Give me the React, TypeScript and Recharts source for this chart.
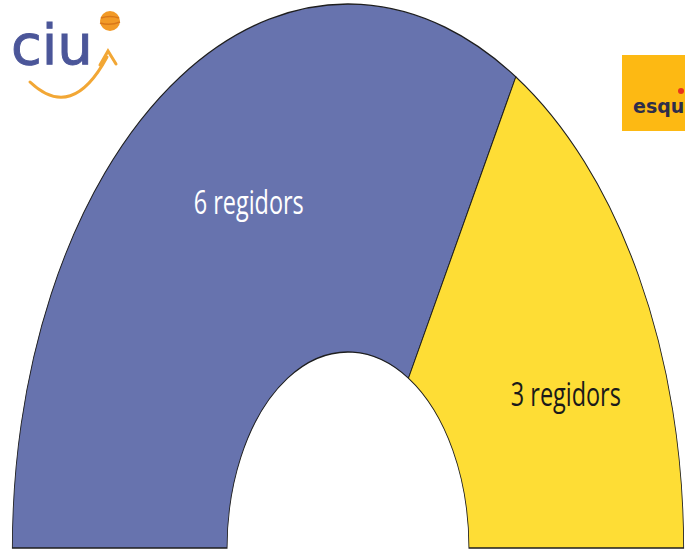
import { PieChart, Pie, Cell } from "recharts";

const parties = ["CiU", "ERC"];
const seats = [6, 3];
const seatLabels = ["6 regidors", "3 regidors"];
const colors = ["#6773AE", "#FEDD35"];
const labelColors = ["#ffffff", "#1a1a1a"];

const data = parties.map((p, i) => ({ name: p, value: seats[i] }));

// the original is a squashed half-donut, so the circle gets scaled on x
const SX = 0.617;
const CHART_W = 1100;
const CX = 550;
const CY = 548;

const RAD = Math.PI / 180;

function renderLabel(props: any) {
  const { cx, cy, midAngle, index } = props;
  const r = 388;
  const a = (midAngle - 5.5) * RAD;
  const x = cx + r * Math.cos(a);
  const y = cy - r * Math.sin(a);
  return (
    <text
      transform={`translate(${x},${y + 19}) scale(${1 / SX},1)`}
      textAnchor="middle"
      fill={labelColors[index]}
      fontFamily="'Open Sans', sans-serif"
      fontSize={33}
      textLength={110}
      lengthAdjust="spacingAndGlyphs"
    >
      {seatLabels[index]}
    </text>
  );
}

function Logos() {
  return (
    <svg width={685} height={549} style={{ position: "absolute", left: 0, top: 0, pointerEvents: "none" }}>
      {/* CiU */}
      <text x={11} y={64} fontFamily="'DejaVu Sans', sans-serif" fontSize={56} fill="#4B5699" stroke="#4B5699" strokeWidth={1}>
        ciu
      </text>
      <path d="M 30 82 Q 72 122 107 57" fill="none" stroke="#F2A735" strokeWidth={3} strokeLinecap="round" />
      <path d="M 100 65 L 108 51 L 116 64" fill="none" stroke="#F2A735" strokeWidth={3} strokeLinecap="round" />
      <circle cx={110} cy={21} r={10} fill="#F29A27" />
      <path d="M 101 18 Q 110 15 119 18 M 100 23 Q 110 26 120 22" stroke="#D9781A" strokeWidth={1.5} fill="none" />
      {/* esquerra */}
      <rect x={622} y={55} width={63} height={76} fill="#FDB913" />
      <circle cx={681} cy={91} r={3} fill="#E8341C" />
      <text x={633} y={113} fontFamily="'DejaVu Sans', sans-serif" fontWeight="bold" fontSize={19} fill="#2E2D4A">
        esqu
      </text>
    </svg>
  );
}

export default function App() {
  return (
    <div
      style={{
        position: "absolute",
        left: 0,
        top: 0,
        width: 685,
        height: 549,
        overflow: "hidden",
        background: "#ffffff",
      }}
    >
      <div
        style={{
          position: "absolute",
          left: 348 - CX,
          top: 0,
          width: CHART_W,
          height: 549,
          transform: `scaleX(${SX})`,
          transformOrigin: `${CX}px 0px`,
        }}
      >
        <PieChart width={CHART_W} height={549} margin={{ top: 0, right: 0, bottom: 0, left: 0 }}>
          <Pie
            data={data}
            dataKey="value"
            nameKey="name"
            cx={CX}
            cy={CY}
            startAngle={180}
            endAngle={0}
            innerRadius={196}
            outerRadius={544}
            stroke="#1e1e1e"
            strokeWidth={1.4}
            label={renderLabel}
            labelLine={false}
            isAnimationActive={false}
          >
            {data.map((d, i) => (
              <Cell key={d.name} fill={colors[i]} />
            ))}
          </Pie>
        </PieChart>
      </div>
      <Logos />
    </div>
  );
}
